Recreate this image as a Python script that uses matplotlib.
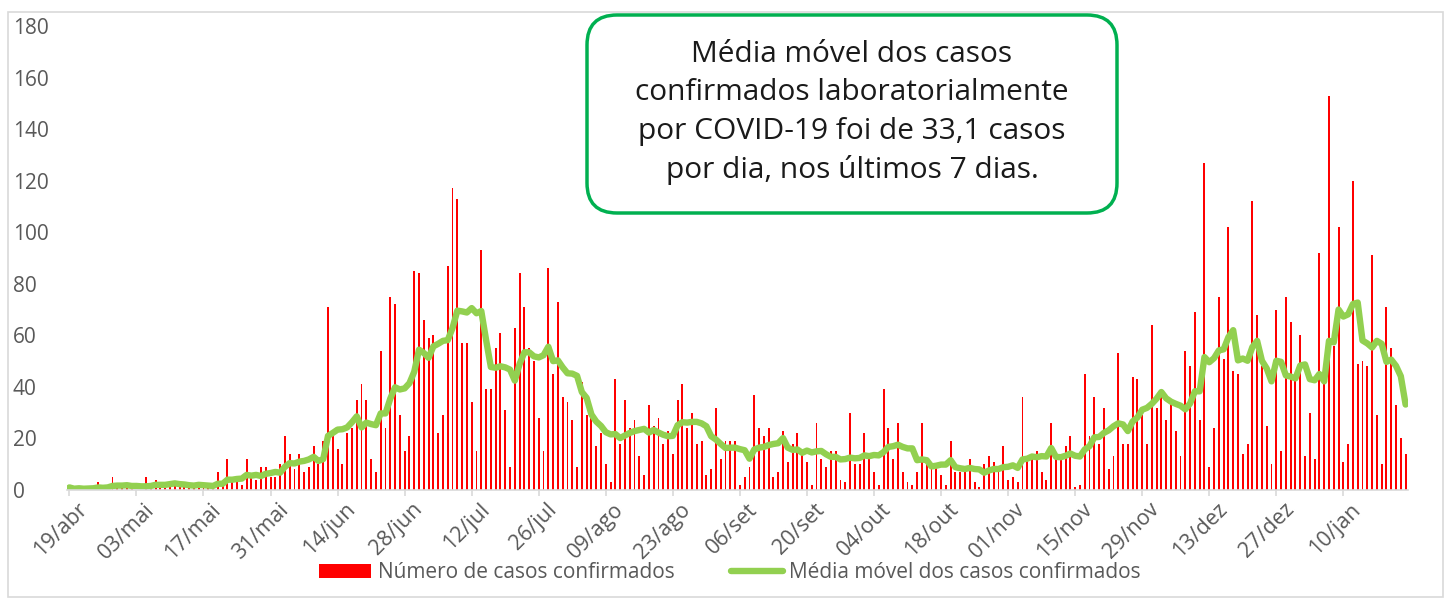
import matplotlib
matplotlib.use("Agg")
import matplotlib.pyplot as plt
import matplotlib.patches as mpatches
from matplotlib.transforms import IdentityTransform, ScaledTranslation
import numpy as np
import pandas as pd


# casos confirmados por dia, a partir de 19/abr
casos = [
    1, 0, 1, 0, 1, 1, 3, 0, 1, 5,
    1, 1, 2, 1, 0, 0, 5, 2, 4, 2,
    1, 2, 2, 3, 1, 2, 1, 3, 1, 1,
    2, 7, 2, 12, 3, 3, 2, 12, 5, 4,
    9, 9, 5, 5, 10, 21, 14, 8, 14, 7,
    9, 17, 10, 19, 71, 22, 16, 10, 22, 24,
    35, 41, 35, 12, 7, 54, 24, 75, 72, 29,
    15, 21, 85, 84, 66, 59, 60, 22, 29, 87,
    117, 113, 57, 57, 34, 15, 93, 39, 39, 55,
    61, 31, 9, 63, 84, 71, 55, 50, 28, 15,
    86, 45, 73, 36, 34, 27, 9, 42, 29, 28,
    17, 22, 10, 3, 43, 18, 35, 24, 27, 13,
    6, 33, 25, 28, 18, 23, 14, 35, 41, 24,
    30, 18, 19, 6, 8, 32, 12, 19, 19, 19,
    2, 5, 9, 37, 24, 21, 24, 5, 7, 23,
    11, 18, 22, 15, 11, 2, 26, 12, 9, 15,
    15, 4, 3, 30, 10, 10, 22, 13, 7, 2,
    39, 24, 12, 26, 7, 3, 2, 7, 26, 10,
    9, 9, 6, 2, 19, 7, 7, 7, 12, 3,
    1, 10, 13, 11, 7, 17, 4, 5, 3, 36,
    13, 13, 15, 7, 4, 26, 12, 12, 17, 21,
    1, 2, 45, 21, 36, 18, 32, 8, 13, 53,
    18, 18, 44, 43, 29, 18, 64, 32, 36, 27,
    34, 23, 13, 54, 48, 69, 27, 127, 9, 24,
    75, 51, 102, 46, 45, 14, 18, 112, 68, 48,
    25, 10, 70, 15, 75, 65, 43, 60, 13, 30,
    12, 92, 45, 153, 56, 102, 11, 18, 120, 49,
    50, 48, 91, 29, 10, 71, 55, 33, 20, 14,
]

tick_labels = ["19/abr", "03/mai", "17/mai", "31/mai", "14/jun", "28/jun",
               "12/jul", "26/jul", "09/ago", "23/ago", "06/set", "20/set",
               "04/out", "18/out", "01/nov", "15/nov", "29/nov", "13/dez",
               "27/dez", "10/jan"]
tick_step = 14

texto_caixa = ["Média móvel dos casos",
               "confirmados laboratorialmente",
               "por COVID-19 foi de 33,1 casos",
               "por dia, nos últimos 7 dias."]

# media movel de 7 dias
media_movel = pd.Series(casos).rolling(7, min_periods=1).mean()

W, H = 1451, 601
cinza = "#595959"
plt.rcParams["font.family"] = ["Open Sans", "DejaVu Sans"]

fig = plt.figure(figsize=(W / 100, H / 100), dpi=100)
ax = fig.add_axes([67 / W, 1 - 490 / H, (1408 - 67) / W, (490 - 26) / H])

x = np.arange(len(casos))
barras = ax.bar(x, casos, width=0.4, color="#FF0000")
linha, = ax.plot(x, media_movel, color="#92D050", lw=4.6, solid_capstyle="round",
                 solid_joinstyle="round")

ax.set_xlim(-0.5, len(casos) - 0.5)
ax.set_ylim(0, 180)
ax.set_yticks(range(0, 181, 20))
for s in ["top", "right", "left"]:
    ax.spines[s].set_visible(False)
ax.spines["bottom"].set_color("#D9D9D9")
ax.spines["bottom"].set_linewidth(1.2)

ax.set_xticks(x[::tick_step])
ax.set_xticklabels(tick_labels, rotation=45, ha="right", rotation_mode="anchor")
ax.tick_params(axis="x", length=4.5, color="#D9D9D9", width=1.2, pad=2,
               labelsize=15.5, labelcolor=cinza)
desloc = ScaledTranslation(7 / 100, 0, fig.dpi_scale_trans)
for lbl in ax.get_xticklabels():
    lbl.set_transform(lbl.get_transform() + desloc)
ax.tick_params(axis="y", length=0, pad=39, labelsize=15, labelcolor=cinza)
for lbl in ax.get_yticklabels():
    lbl.set_ha("left")

fig.legend([barras, linha],
           ["Número de casos confirmados", "Média móvel dos casos confirmados"],
           loc="center", bbox_to_anchor=(730 / W, 1 - 573 / H), ncol=2,
           frameon=False, fontsize=15, handlelength=2.5, handleheight=0.68,
           handletextpad=0.3, columnspacing=2.7, labelcolor=cinza,
           borderaxespad=0, borderpad=0)

# moldura do grafico
fig.patches.append(mpatches.Rectangle((8, H - 597), 1435, 585, fill=False,
                                      ec="#D9D9D9", lw=1.2,
                                      transform=IdentityTransform(), figure=fig))

# caixa de texto
caixa = mpatches.FancyBboxPatch((587, H - 213), 530, 198,
                                boxstyle="round,pad=0,rounding_size=30",
                                fc="white", ec="#00B050", lw=2.5,
                                transform=IdentityTransform(), figure=fig,
                                zorder=5)
fig.patches.append(caixa)
for i, txt in enumerate(texto_caixa):
    fig.text(852 / W, 1 - (54 + 38.7 * i) / H, txt, ha="center", va="center",
             fontsize=21.5, color="#1a1a1a", zorder=6)

fig.savefig("out.png", dpi=100, facecolor="white")
